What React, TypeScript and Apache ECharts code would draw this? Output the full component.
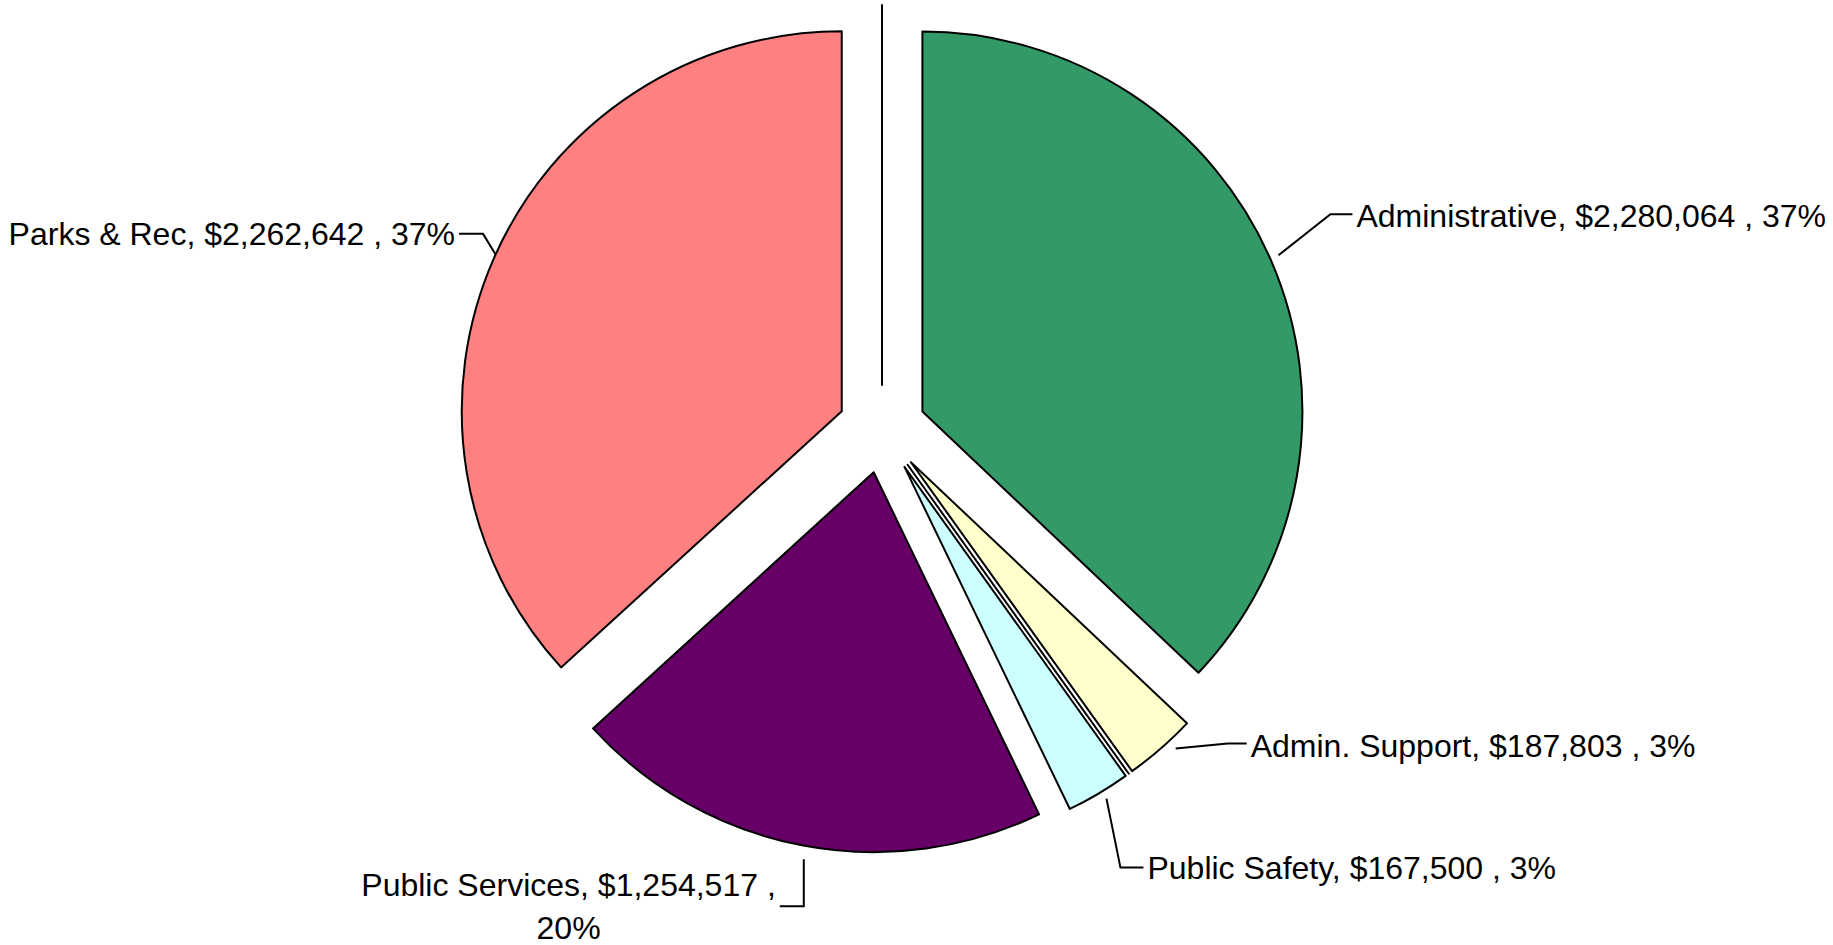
import React, { useEffect, useRef } from "react";
import * as echarts from "echarts";

// ---- data ----
const categories = ["Administrative", "Admin. Support", "", "Public Safety", "Public Services", "Parks & Rec", ""];
const values = [2280064, 187803, 0, 167500, 1254517, 2262642, 0];
const wrapBeforePercent = [false, false, false, false, true, false, false];

// ---- styles ----
const colors = ["#339966", "#FFFFCC", "#FFFFFF", "#CCFFFF", "#660066", "#FF8080", "#FFFFFF"];
// leader offsets relative to the library's label anchor:
// [startDx, startDy, elbowDx, elbowDy, endDx, endDy, textDy]
const guides: (number[] | null)[] = [
  [7, -6, 59, -47, 81, -47, 2],
  [15, 0, 67, -5, 86, -5, 2],
  null,
  [8, 5, 22, 74, 45, 74, 0],
  [2, 14, 2, 61, -22, 61, 0],
  [3, -1, -11, -24, -35, -24, 0],
  null,
];
const LEN2 = 20;
const DIST = 5;

const fmt = (v: number) => v.toLocaleString("en-US");

export default function App() {
  const ref = useRef<HTMLDivElement>(null);
  useEffect(() => {
    document.body.style.margin = "0";
    const chart = echarts.init(ref.current!, undefined, { renderer: "svg" });
    chart.setOption({
      animation: false,
      backgroundColor: "#FFFFFF",
      series: [
        {
          type: "pie",
          center: [882, 429],
          radius: 380,
          startAngle: 90,
          clockwise: true,
          selectedMode: "multiple",
          selectedOffset: 44,
          avoidLabelOverlap: false,
          percentPrecision: 0,
          itemStyle: { borderColor: "#000000", borderWidth: 2 },
          emphasis: { disabled: true },
          select: { itemStyle: { borderColor: "#000000", borderWidth: 2 } },
          label: {
            show: true,
            position: "outside",
            color: "#000000",
            fontSize: 32,
            lineHeight: 43,
            distanceToLabelLine: DIST,
            fontFamily: "'Liberation Sans', Arial, sans-serif",
            formatter: (p: any) =>
              `${p.name}, $${fmt(p.value)} ,${wrapBeforePercent[p.dataIndex] ? "\n" : " "}${p.percent}%`,
          },
          labelLine: { show: true, length: 20, length2: LEN2, lineStyle: { color: "#000000", width: 2 } },
          labelLayout: (p: any) => {
            const g = guides[p.dataIndex];
            const pts = p.labelLinePoints;
            if (!g || !pts) return {};
            const ax = pts[0][0];
            const ay = pts[0][1];
            const last = pts[pts.length - 1];
            const prev = pts[pts.length - 2];
            const defRight = last[0] >= prev[0];
            const defX = last[0] + (defRight ? DIST : -DIST);
            const defY = last[1];
            const s = [ax + g[0], ay + g[1]];
            const e = [ax + g[2], ay + g[3]];
            const f = [ax + g[4], ay + g[5]];
            const w = p.labelRect.width;
            const right = f[0] > e[0];
            const tx = right ? f[0] + 4 + w / 2 : f[0] - 4 - w / 2;
            const ty = f[1] + g[6];
            return {
              dx: tx - defX,
              dy: ty - defY,
              align: "center",
              verticalAlign: "middle",
              labelLinePoints: [s, e, f],
            };
          },
          data: categories.map((c, i) => ({
            name: c,
            value: values[i],
            selected: true,
            itemStyle: { color: colors[i] },
            label: c ? {} : { show: false },
            labelLine: c ? {} : { show: false },
          })),
        },
      ],
    });
    return () => chart.dispose();
  }, []);
  return <div ref={ref} style={{ position: "absolute", left: 0, top: 0, width: 1833, height: 945 }} />;
}
